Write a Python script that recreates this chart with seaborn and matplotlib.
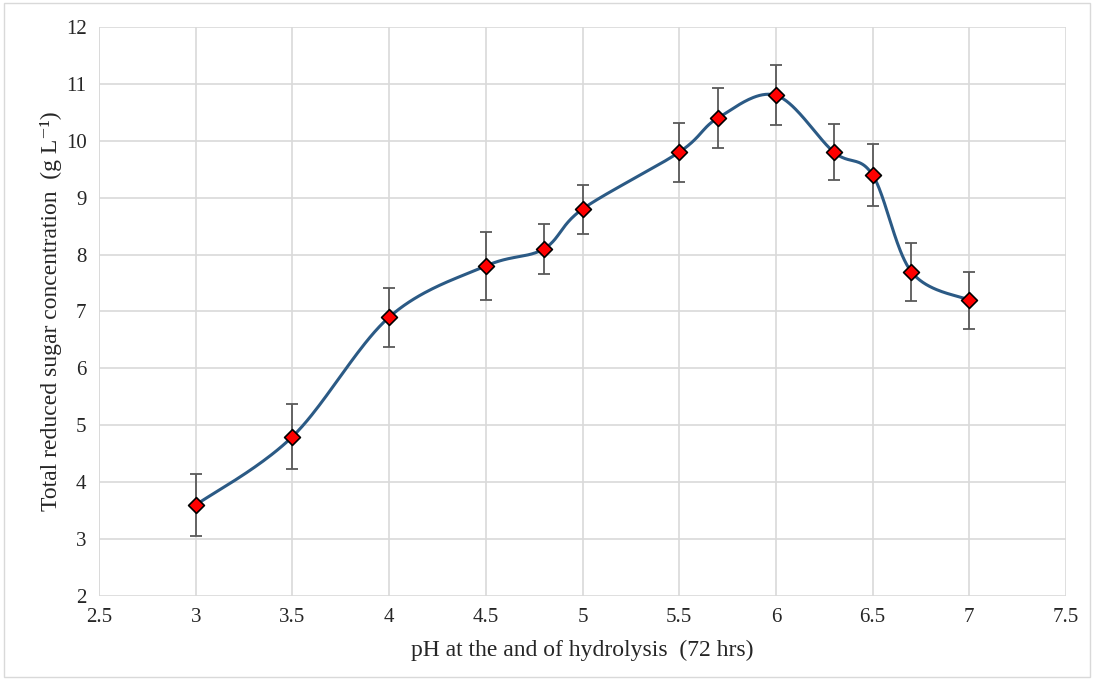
import numpy as np
import pandas as pd
import matplotlib
matplotlib.use("Agg")
import matplotlib.pyplot as plt
import seaborn as sns

ph = [3.0, 3.5, 4.0, 4.5, 4.8, 5.0, 5.5, 5.7, 6.0, 6.3, 6.5, 6.7, 7.0]
sugar = [3.6, 4.8, 6.9, 7.8, 8.1, 8.8, 9.8, 10.4, 10.8, 9.8, 9.4, 7.7, 7.2]
err = [0.55, 0.57, 0.52, 0.59, 0.44, 0.43, 0.52, 0.53, 0.53, 0.49, 0.55, 0.51, 0.5]

x_ticks = [2.5, 3, 3.5, 4, 4.5, 5, 5.5, 6, 6.5, 7, 7.5]
x_labels = ["2.5", "3", "3.5", "4", "4.5", "5", "5.5", "6", "6.5", "7", "7.5"]
y_ticks = list(range(2, 13))


def smooth_curve(xs, ys, n=40):
    # Excel-like smoothed line: Catmull-Rom through the points as cubic Bezier
    xs = np.asarray(xs, float)
    ys = np.asarray(ys, float)
    pts = np.column_stack([xs, ys])
    out = []
    for i in range(len(pts) - 1):
        p0 = pts[i - 1] if i > 0 else pts[i]
        p1 = pts[i]
        p2 = pts[i + 1]
        p3 = pts[i + 2] if i + 2 < len(pts) else pts[i + 1]
        c1 = p1 + (p2 - p0) / 6.0
        c2 = p2 - (p3 - p1) / 6.0
        t = np.linspace(0, 1, n, endpoint=(i == len(pts) - 2))[:, None]
        seg = ((1 - t) ** 3) * p1 + 3 * ((1 - t) ** 2) * t * c1 + 3 * (1 - t) * t ** 2 * c2 + t ** 3 * p2
        out.append(seg)
    out = np.vstack(out)
    return out[:, 0], out[:, 1]


sns.set_theme(style="white")
plt.rcParams["font.family"] = ["Liberation Serif", "DejaVu Serif"]

fig = plt.figure(figsize=(10.94, 6.8), dpi=100)
ax = fig.add_axes([99 / 1094, 84 / 680, 967 / 1094, 569 / 680])

sx, sy = smooth_curve(ph, sugar)
curve = pd.DataFrame({"x": sx, "y": sy})
sns.lineplot(data=curve, x="x", y="y", ax=ax, color="#2B5A85", linewidth=2.2,
             sort=False, estimator=None, zorder=3)

ax.errorbar(ph, sugar, yerr=err, fmt="none", ecolor="#595959", elinewidth=1.3,
            capsize=4, capthick=1.3, zorder=2)

pts = pd.DataFrame({"ph": ph, "sugar": sugar})
sns.scatterplot(data=pts, x="ph", y="sugar", ax=ax, marker="D", s=65,
                color="#FF0000", edgecolor="black", linewidth=1.2, zorder=4)

ax.set_xlim(2.5, 7.5)
ax.set_ylim(2, 12)
ax.set_xticks(x_ticks)
ax.set_xticklabels(x_labels)
ax.set_yticks(y_ticks)
ax.grid(True, color="#D9D9D9", linewidth=1.2)
ax.set_axisbelow(True)
for s in ax.spines.values():
    s.set_visible(False)
ax.axvline(2.5, color="#D9D9D9", linewidth=1.2, zorder=0)
ax.tick_params(axis="both", length=0, labelsize=15, colors="#262626", pad=9)

ax.set_xlabel("pH at the and of hydrolysis  (72 hrs)", fontsize=17, color="#262626", labelpad=9)
ax.set_ylabel("Total reduced sugar concentration  (g L\u207b\u00b9)", fontsize=17,
              color="#262626", labelpad=3)

fig.patches.append(plt.Rectangle((0.004, 0.004), 0.992, 0.992, transform=fig.transFigure,
                                 fill=False, edgecolor="#D9D9D9", linewidth=1))

fig.savefig("out.png", dpi=100)
plt.close(fig)
